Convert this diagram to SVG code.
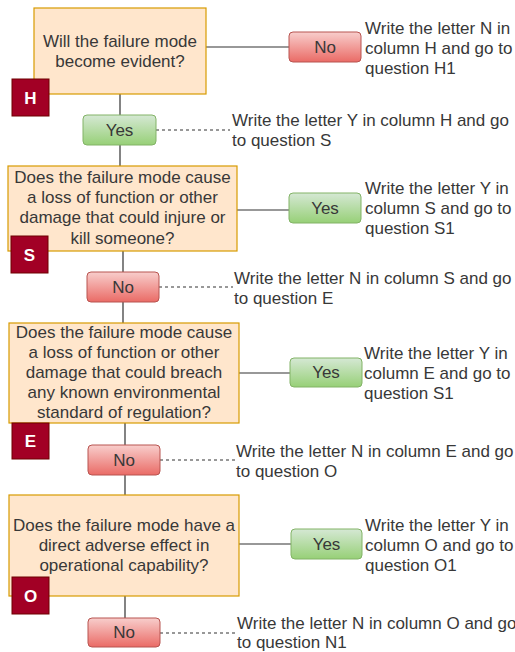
<svg xmlns="http://www.w3.org/2000/svg" width="515" height="652" viewBox="0 0 515 652">
<style>
text{font-family:"Liberation Sans",Arial,sans-serif;font-size:17px;fill:#383838}
.q{fill:#ffe6cc;stroke:#d79b00;stroke-width:1.2}
.badge{fill:#a20025;stroke:#6f0000;stroke-width:1}
.bl{fill:#ffffff;font-weight:bold;text-anchor:middle}
.yes{fill:url(#gy);stroke:#82b366;stroke-width:1}
.no{fill:url(#gn);stroke:#b85450;stroke-width:1}
.c{text-anchor:middle}
.ln{stroke:#333333;stroke-width:1.2;fill:none}
.ds{stroke:#333333;stroke-width:1.1;fill:none;stroke-dasharray:3 3}
</style>
<defs>
<linearGradient id="gy" x1="0" y1="0" x2="0" y2="1"><stop offset="0" stop-color="#d5e8d4"/><stop offset="1" stop-color="#97d077"/></linearGradient>
<linearGradient id="gn" x1="0" y1="0" x2="0" y2="1"><stop offset="0" stop-color="#f8cecc"/><stop offset="1" stop-color="#ea6b66"/></linearGradient>
</defs>
<rect width="515" height="652" fill="#ffffff"/>
<g id="connectors">
<path class="ln" d="M120 94V115M120 145V166M206 47H289"/>
<path class="ds" d="M156 130H230"/>
<path class="ln" d="M123 251V272M123 302V323M237 210H289"/>
<path class="ds" d="M159 287H233"/>
<path class="ln" d="M125 423V445M125 475V495M239 373H290"/>
<path class="ds" d="M160 460H235"/>
<path class="ln" d="M125 596V618M239 544H291"/>
<path class="ds" d="M160 633H236"/>
</g>
<g id="qH">
<rect class="q" x="34" y="8" width="172" height="86"/>
<text class="c" x="120" y="47">Will the failure mode</text>
<text class="c" x="120" y="67">become evident?</text>
</g>
<g id="badgeH"><rect class="badge" x="12" y="79" width="37" height="37"/><text class="bl" x="30.5" y="103.5">H</text></g>
<g id="yesH"><rect class="yes" x="83" y="115" width="73" height="30" rx="4"/><text class="c" x="119.5" y="135.5">Yes</text></g>
<g id="noH"><rect class="no" x="289" y="32" width="72" height="30" rx="4"/><text class="c" x="325" y="52.5">No</text></g>
<g id="tNoH"><text x="365" y="34">Write the letter N in</text><text x="365" y="54">column H and go to</text><text x="365" y="74">question H1</text></g>
<g id="tYesH"><text x="232" y="126">Write the letter Y in column H and go</text><text x="232" y="146">to question S</text></g>

<g id="qS">
<rect class="q" x="8" y="166" width="229" height="85"/>
<text class="c" x="122.5" y="183">Does the failure mode cause</text>
<text class="c" x="122.5" y="203">a loss of function or other</text>
<text class="c" x="122.5" y="223">damage that could injure or</text>
<text class="c" x="122.5" y="243.5">kill someone?</text>
</g>
<g id="badgeS"><rect class="badge" x="11" y="236" width="37" height="37"/><text class="bl" x="29.5" y="260.5">S</text></g>
<g id="noS"><rect class="no" x="87" y="272" width="72" height="30" rx="4"/><text class="c" x="123" y="292.5">No</text></g>
<g id="yesS"><rect class="yes" x="289" y="193" width="72" height="30" rx="4"/><text class="c" x="325" y="213.5">Yes</text></g>
<g id="tYesS"><text x="365" y="194">Write the letter Y in</text><text x="365" y="214">column S and go to</text><text x="365" y="234">question S1</text></g>
<g id="tNoS"><text x="234" y="283.5">Write the letter N in column S and go</text><text x="234" y="304">to question E</text></g>

<g id="qE">
<rect class="q" x="9" y="323" width="230" height="100"/>
<text class="c" x="124" y="337.5">Does the failure mode cause</text>
<text class="c" x="124" y="357.5">a loss of function or other</text>
<text class="c" x="124" y="377.5">damage that could breach</text>
<text class="c" x="124" y="397.5">any known environmental</text>
<text class="c" x="124" y="417.5">standard of regulation?</text>
</g>
<g id="badgeE"><rect class="badge" x="12" y="423" width="37" height="36"/><text class="bl" x="30.5" y="447">E</text></g>
<g id="noE"><rect class="no" x="88" y="445" width="72" height="30" rx="4"/><text class="c" x="124" y="465.5">No</text></g>
<g id="yesE"><rect class="yes" x="290" y="358" width="72" height="29" rx="4"/><text class="c" x="326" y="378">Yes</text></g>
<g id="tYesE"><text x="364" y="358.5">Write the letter Y in</text><text x="364" y="378.5">column E and go to</text><text x="364" y="398.5">question S1</text></g>
<g id="tNoE"><text x="236" y="456.5">Write the letter N in column E and go</text><text x="236" y="477">to question O</text></g>

<g id="qO">
<rect class="q" x="9" y="495" width="230" height="101"/>
<text class="c" x="124" y="530.5">Does the failure mode have a</text>
<text class="c" x="124" y="550.5">direct adverse effect in</text>
<text class="c" x="124" y="570.5">operational capability?</text>
</g>
<g id="badgeO"><rect class="badge" x="12" y="577" width="37" height="37"/><text class="bl" x="30.5" y="601.5">O</text></g>
<g id="noO"><rect class="no" x="88" y="618" width="72" height="29" rx="4"/><text class="c" x="124" y="638">No</text></g>
<g id="yesO"><rect class="yes" x="291" y="529" width="71" height="30" rx="4"/><text class="c" x="326.5" y="549.5">Yes</text></g>
<g id="tYesO"><text x="365" y="530.5">Write the letter Y in</text><text x="365" y="550.5">column O and go to</text><text x="365" y="570.5">question O1</text></g>
<g id="tNoO"><text x="237" y="628.5">Write the letter N in column O and go</text><text x="237" y="648">to question N1</text></g>
</svg>
